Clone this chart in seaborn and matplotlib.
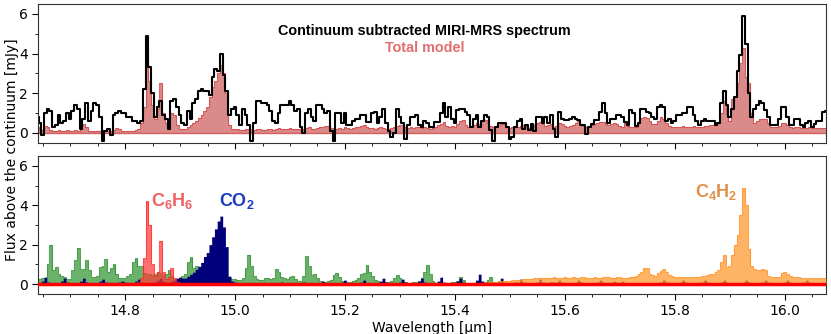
import numpy as np
import pandas as pd
import seaborn as sns
import matplotlib.pyplot as plt
from matplotlib.ticker import MultipleLocator, AutoMinorLocator

# wavelength grid of the spectrum (micron)
wave = np.round(np.arange(14.640, 16.0751, 0.005), 3)

# continuum subtracted spectrum [mJy]
observed = [
    0.8, 0.5, -0.1, 1.0, 1.2, 1.1, 0.3, 0.4, 0.9, 0.5,
    0.6, 1.0, 0.7, 1.1, 1.4, 1.2, 0.2, 0.7, 1.5, 0.6,
    1.1, 1.5, 1.4, 0.8, -0.4, 0.1, 0.2, -0.1, 0.9, 1.0,
    1.1, 1.0, 1.0, 0.8, 0.8, 0.6, 0.6, 0.5, 0.6, 2.2,
    4.9, 3.3, 2.0, 0.8, 1.3, 1.6, 0.9, 0.7, 0.2, 1.6,
    1.7, 1.3, 0.9, 0.5, 0.4, 1.1, 0.7, 1.5, 1.7, 2.1,
    2.2, 2.1, 2.1, 1.9, 2.8, 3.2, 3.1, 4.0, 2.9, 2.1,
    0.9, 1.2, 1.3, 0.9, 0.4, 1.2, 0.9, 0.4, -0.4, 0.5,
    1.6, 1.6, 1.5, 1.5, 1.4, 1.1, 0.6, 0.5, 1.0, 1.4,
    1.4, 1.4, 1.6, 1.4, 1.1, 1.2, 0.3, 0.0, 1.0, 1.2,
    0.8, 0.6, 1.4, 1.4, 1.2, 1.0, 1.1, 0.1, -0.4, 1.0,
    1.0, 0.5, 1.0, 0.4, 0.4, 0.6, 0.7, 0.7, 0.9, 0.9,
    0.55, 0.55, 1.0, 1.05, 0.5, 0.8, 1.2, 0.5, 0.1, -0.2,
    0.0, 1.2, 0.8, 0.5, -0.3, 0.4, 0.8, 0.8, 0.9, 0.4,
    0.3, 0.6, 0.5, 0.3, 0.3, 0.55, 0.55, 1.0, 1.5, 0.8,
    1.3, 0.7, 0.5, 1.15, 1.2, 1.2, 1.05, 0.9, 0.3, 0.7,
    0.9, 0.3, 0.6, 0.9, 0.8, 0.15, -0.4, 0.3, 0.5, 0.5,
    0.5, 0.3, -0.3, -0.2, 0.3, 0.6, 0.7, 0.2, 0.4, 0.15,
    0.45, 0.1, 0.8, 0.8, 0.5, 0.8, 0.5, 0.9, 0.2, -0.2,
    1.05, 0.7, 0.65, 0.65, 0.7, 0.8, 0.7, 0.65, 0.4, 0.4,
    -0.05, 0.3, 0.45, 0.65, 0.65, 1.05, 1.5, 1.0, 0.5, 0.7,
    0.7, 0.9, 0.9, 0.8, 0.55, 0.4, 1.15, 1.0, 0.35, 0.5,
    1.2, 1.2, 1.05, 1.0, 0.8, 0.7, 1.3, 1.4, 1.3, 0.6,
    0.7, 0.5, 0.6, 0.9, 0.9, 1.0, 1.0, 1.3, 1.3, 0.9,
    0.6, 0.4, 0.6, 0.7, 0.6, 0.6, 0.6, 0.4, 0.5, 1.5,
    2.1, 1.4, 0.8, 1.2, 1.8, 3.1, 3.9, 5.9, 4.5, 2.0,
    0.8, 1.2, 1.4, 1.6, 1.5, 1.15, 0.8, 0.4, 0.4, 0.4,
    0.7, 1.3, 1.3, 0.8, 0.4, 0.4, 0.7, 0.7, 0.4, 0.3,
    0.5, 0.6, 0.3, 0.45, 0.6, 0.6, 1.05, 1.1,
]

# total slab model [mJy]
total_model = [
    0.3, 0.2, 0.15, 0.35, 0.3, 0.15, 0.1, 0.1, 0.15, 0.1,
    0.1, 0.15, 0.1, 0.1, 0.15, 0.1, 0.2, 0.45, 0.3, 0.1,
    0.1, 0.1, 0.1, 0.1, 0.15, 0.1, 0.1, 0.1, 0.15, 0.25,
    0.2, 0.1, 0.1, 0.1, 0.1, 0.1, 0.15, 0.2, 0.5, 1.3,
    4.3, 2.6, 1.4, 0.7, 1.2, 2.5, 1.0, 0.5, 0.3, 1.0,
    0.9, 0.4, 0.2, 0.2, 0.2, 0.3, 0.4, 0.5, 0.6, 0.75,
    0.9, 1.1, 1.3, 1.8, 2.3, 2.6, 3.0, 3.4, 3.0, 2.0,
    0.4, 0.2, 0.2, 0.2, 0.15, 0.15, 0.2, 0.2, 0.2, 0.15,
    0.2, 0.2, 0.15, 0.15, 0.2, 0.2, 0.15, 0.2, 0.25, 0.2,
    0.2, 0.2, 0.25, 0.2, 0.2, 0.2, 0.2, 0.2, 0.25, 0.3,
    0.2, 0.2, 0.25, 0.3, 0.3, 0.35, 0.35, 0.25, 0.2, 0.2,
    0.25, 0.2, 0.3, 0.25, 0.2, 0.25, 0.3, 0.3, 0.35, 0.4,
    0.3, 0.25, 0.25, 0.2, 0.25, 0.3, 0.25, 0.2, 0.2, 0.25,
    0.3, 0.35, 0.4, 0.4, 0.3, 0.25, 0.3, 0.25, 0.3, 0.3,
    0.25, 0.3, 0.25, 0.2, 0.25, 0.3, 0.4, 0.45, 0.55, 0.35,
    0.3, 0.35, 0.3, 0.45, 0.6, 0.65, 0.4, 0.3, 0.35, 0.4,
    0.5, 0.45, 0.6, 0.65, 0.5, 0.35, 0.3, 0.35, 0.4, 0.45,
    0.45, 0.3, 0.25, 0.3, 0.35, 0.3, 0.35, 0.4, 0.35, 0.25,
    0.3, 0.4, 0.5, 0.55, 0.45, 0.35, 0.4, 0.45, 0.3, 0.35,
    0.5, 0.45, 0.35, 0.3, 0.35, 0.4, 0.5, 0.6, 0.45, 0.35,
    0.3, 0.35, 0.4, 0.45, 0.5, 0.55, 0.55, 0.45, 0.4, 0.45,
    0.5, 0.45, 0.35, 0.3, 0.5, 0.35, 0.3, 0.3, 0.3, 0.5,
    0.75, 0.8, 0.75, 0.6, 0.45, 0.45, 0.6, 0.8, 0.7, 0.5,
    0.35, 0.3, 0.3, 0.3, 0.3, 0.35, 0.3, 0.3, 0.3, 0.35,
    0.3, 0.3, 0.3, 0.35, 0.35, 0.4, 0.4, 0.4, 0.5, 1.0,
    1.6, 1.0, 0.6, 1.7, 1.8, 2.5, 3.5, 4.3, 2.8, 2.5,
    1.0, 0.5, 0.6, 0.7, 0.7, 0.7, 0.5, 0.3, 0.3, 0.3,
    0.35, 0.5, 0.5, 0.4, 0.3, 0.25, 0.3, 0.3, 0.25, 0.25,
    0.25, 0.3, 0.25, 0.25, 0.25, 0.25, 0.25, 0.25,
]

# individual molecular components [mJy]
h2o = [
    0.25, 0.25, 0.3, 0.3, 1.0, 2.0, 0.7, 0.85, 0.5, 0.4,
    0.35, 0.25, 0.25, 0.7, 1.2, 1.85, 0.75, 0.75, 1.2, 0.7,
    0.35, 0.35, 0.4, 0.85, 0.9, 1.25, 0.6, 0.8, 1.0, 0.5,
    0.3, 0.3, 0.3, 0.4, 0.5, 1.1, 1.3, 0.9, 0.9, 0.55,
    0.5, 0.5, 0.45, 0.5, 0.6, 0.55, 0.45, 0.5, 0.7, 0.4,
    0.25, 0.25, 0.3, 0.4, 0.5, 1.1, 1.35, 0.8, 0.9, 0.8,
    0.6, 0.4, 0.5, 0.4, 0.5, 0.6, 0.5, 0.4, 0.3, 0.3,
    0.3, 0.25, 0.25, 0.2, 0.2, 0.3, 0.8, 1.5, 0.9, 0.4,
    0.25, 0.2, 0.2, 0.3, 0.3, 0.25, 0.3, 0.75, 0.6, 0.35,
    0.3, 0.25, 0.35, 0.4, 0.25, 0.15, 0.15, 0.4, 1.4, 0.9,
    0.45, 0.5, 0.3, 0.15, 0.1, 0.1, 0.15, 0.2, 0.45, 0.55,
    0.35, 0.15, 0.1, 0.1, 0.1, 0.15, 0.2, 0.3, 0.5, 0.55,
    0.95, 0.6, 0.4, 0.2, 0.15, 0.1, 0.1, 0.1, 0.1, 0.15,
    0.3, 0.45, 0.3, 0.1, 0.1, 0.05, 0.05, 0.1, 0.1, 0.15,
    0.3, 0.6, 0.95, 0.5, 0.15, 0.05, 0.05, 0.05, 0.05, 0.05,
    0.05, 0.1, 0.1, 0.15, 0.35, 0.2, 0.05, 0.05, 0.05, 0.05,
    0.05, 0.05, 0.05, 0.1, 0.2, 0.35, 0.1, 0.05, 0.05, 0.05,
    0.05, 0.05, 0.05, 0.05, 0.1, 0.05, 0.05, 0.05, 0.05, 0.05,
    0.05, 0.05, 0.05, 0.05, 0.05, 0.05, 0.05, 0.12, 0.05, 0.05,
    0.05, 0.05, 0.05, 0.05, 0.05, 0.05, 0.05, 0.05, 0.05, 0.05,
    0.05, 0.05, 0.05, 0.05, 0.05, 0.05, 0.05, 0.05, 0.05, 0.05,
    0.1, 0.05, 0.05, 0.05, 0.05, 0.05, 0.05, 0.05, 0.05, 0.05,
    0.03, 0.03, 0.03, 0.03, 0.03, 0.03, 0.03, 0.03, 0.03, 0.03,
    0.03, 0.03, 0.03, 0.03, 0.03, 0.03, 0.03, 0.03, 0.03, 0.03,
    0.03, 0.03, 0.03, 0.03, 0.03, 0.03, 0.03, 0.03, 0.03, 0.03,
    0.03, 0.03, 0.03, 0.03, 0.03, 0.03, 0.03, 0.03, 0.03, 0.03,
    0.03, 0.03, 0.03, 0.03, 0.03, 0.03, 0.03, 0.03, 0.03, 0.03,
    0.03, 0.03, 0.03, 0.03, 0.03, 0.03, 0.03, 0.03, 0.03, 0.03,
    0.03, 0.03, 0.03, 0.03, 0.03, 0.03, 0.03, 0.03,
]

co2 = [
    0.05, 0.05, 0.15, 0.35, 0.1, 0.05, 0.05, 0.05, 0.05, 0.15,
    0.3, 0.1, 0.05, 0.05, 0.05, 0.05, 0.15, 0.3, 0.1, 0.05,
    0.05, 0.05, 0.05, 0.15, 0.25, 0.1, 0.05, 0.05, 0.05, 0.05,
    0.1, 0.15, 0.1, 0.05, 0.05, 0.05, 0.15, 0.25, 0.1, 0.05,
    0.05, 0.05, 0.05, 0.1, 0.2, 0.3, 0.15, 0.1, 0.1, 0.15,
    0.2, 0.3, 0.35, 0.3, 0.3, 0.4, 0.5, 0.6, 0.75, 0.9,
    1.1, 1.4, 1.6, 2.0, 2.4, 2.8, 3.2, 3.45, 2.9, 1.9,
    0.4, 0.15, 0.1, 0.05, 0.05, 0.05, 0.05, 0.05, 0.05, 0.05,
    0.05, 0.05, 0.05, 0.05, 0.05, 0.05, 0.05, 0.05, 0.05, 0.1,
    0.05, 0.05, 0.05, 0.05, 0.05, 0.05, 0.05, 0.1, 0.05, 0.05,
    0.05, 0.05, 0.05, 0.05, 0.15, 0.05, 0.05, 0.05, 0.05, 0.05,
    0.05, 0.1, 0.2, 0.05, 0.05, 0.05, 0.05, 0.05, 0.1, 0.2,
    0.05, 0.05, 0.05, 0.05, 0.05, 0.15, 0.3, 0.1, 0.05, 0.05,
    0.05, 0.05, 0.1, 0.25, 0.1, 0.05, 0.05, 0.05, 0.05, 0.15,
    0.3, 0.1, 0.05, 0.05, 0.05, 0.05, 0.15, 0.35, 0.1, 0.05,
    0.05, 0.05, 0.05, 0.15, 0.3, 0.1, 0.05, 0.05, 0.05, 0.05,
    0.2, 0.5, 0.15, 0.05, 0.05, 0.05, 0.05, 0.05, 0.15, 0.3,
    0.1, 0.05, 0.05, 0.05, 0.05, 0.1, 0.25, 0.1, 0.05, 0.05,
    0.05, 0.05, 0.1, 0.25, 0.1, 0.05, 0.05, 0.05, 0.05, 0.1,
    0.2, 0.1, 0.05, 0.05, 0.05, 0.05, 0.1, 0.2, 0.1, 0.05,
    0.05, 0.05, 0.05, 0.05, 0.1, 0.2, 0.1, 0.05, 0.05, 0.05,
    0.15, 0.05, 0.05, 0.15, 0.05, 0.05, 0.05, 0.05, 0.05, 0.05,
    0.05, 0.05, 0.05, 0.05, 0.05, 0.05, 0.05, 0.1, 0.2, 0.1,
    0.05, 0.05, 0.05, 0.05, 0.1, 0.2, 0.1, 0.05, 0.05, 0.05,
    0.05, 0.05, 0.1, 0.2, 0.1, 0.05, 0.05, 0.05, 0.05, 0.1,
    0.2, 0.1, 0.05, 0.05, 0.05, 0.05, 0.05, 0.1, 0.2, 0.1,
    0.05, 0.05, 0.05, 0.05, 0.1, 0.2, 0.1, 0.05, 0.05, 0.05,
    0.05, 0.05, 0.1, 0.2, 0.1, 0.05, 0.05, 0.05, 0.05, 0.1,
    0.2, 0.1, 0.05, 0.05, 0.05, 0.05, 0.05, 0.05,
]

c6h6 = [0.0] * 36 + [
    0.05, 0.1, 0.3, 1.3, 4.2, 3.0, 1.0, 0.4, 0.6, 2.2,
    0.6, 0.25, 0.35, 0.8, 0.3, 0.1, 0.05,
] + [0.0] * 235

c4h2 = [0.0] * 155 + [
    0.02, 0.03, 0.03, 0.04, 0.05, 0.05, 0.06, 0.07, 0.08, 0.08,
    0.1, 0.1, 0.12, 0.13, 0.15, 0.15, 0.17, 0.18, 0.2, 0.2,
    0.22, 0.23, 0.25, 0.25, 0.27, 0.28, 0.3, 0.3, 0.3, 0.32,
    0.32, 0.3, 0.32, 0.35, 0.33, 0.3, 0.32, 0.35, 0.33, 0.32,
    0.35, 0.33, 0.32, 0.35, 0.35, 0.33, 0.3, 0.32, 0.35, 0.33,
    0.32, 0.35, 0.38, 0.35, 0.32, 0.33, 0.35, 0.35, 0.32, 0.3,
    0.32, 0.35, 0.38, 0.4, 0.5, 0.6, 0.8, 0.8, 0.5, 0.45,
    0.4, 0.55, 0.65, 0.75, 0.6, 0.45, 0.4, 0.35, 0.35, 0.35,
    0.35, 0.35, 0.35, 0.35, 0.35, 0.35, 0.35, 0.4, 0.4, 0.45,
    0.5, 0.5, 0.6, 0.7, 1.1, 1.45, 0.85, 0.9, 1.5, 2.0,
    2.5, 3.5, 4.9, 4.0, 1.8, 0.9, 0.75, 0.7, 0.7, 0.75,
    0.7, 0.4, 0.35, 0.35, 0.35, 0.35, 0.55, 0.6, 0.5, 0.4,
    0.35, 0.35, 0.35, 0.3, 0.3, 0.3, 0.3, 0.3, 0.3, 0.3, 0.3, 0.3, 0.3,
]

df = pd.DataFrame({'wave': wave, 'observed': observed, 'model': total_model})

sns.set_style('ticks')
plt.rcParams['font.family'] = ['DejaVu Sans']
plt.rcParams['text.color'] = 'black'
plt.rcParams['axes.labelcolor'] = 'black'
plt.rcParams['xtick.color'] = 'black'
plt.rcParams['ytick.color'] = 'black'
plt.rcParams['mathtext.fontset'] = 'custom'
plt.rcParams['mathtext.rm'] = 'Liberation Sans:bold'
plt.rcParams['mathtext.it'] = 'Liberation Sans:bold'

fig = plt.figure(figsize=(8.31, 3.34), dpi=100)
ax1 = fig.add_axes([0.046, 0.573, 0.948, 0.415])
ax2 = fig.add_axes([0.046, 0.120, 0.948, 0.413], sharex=ax1)

# Top panel: data and total model
ax1.fill_between(df['wave'], 0, df['model'], step='mid',
                 color='#c94c4c', alpha=0.65, lw=0)
ax1.step(df['wave'], df['model'], where='mid', color='#d04040', lw=0.8, alpha=0.8)
ax1.axhline(0, color='#d04040', lw=1.0, alpha=0.8)
sns.lineplot(data=df, x='wave', y='observed', ax=ax1, color='black',
             lw=1.5, drawstyle='steps-mid', estimator=None)
ax1.set_xlabel('')
ax1.set_ylabel('')
ax1.text(15.345, 5.16, 'Continuum subtracted MIRI-MRS spectrum', ha='center',
         va='center', fontsize=10.4, fontweight='bold', color='black',
         family='Liberation Sans')
ax1.text(15.345, 4.26, 'Total model', ha='center', va='center', fontsize=10.4,
         fontweight='bold', color='#e07070', family='Liberation Sans')
plt.setp(ax1.get_xticklabels(), visible=False)

# Bottom panel: individual molecules (fill colour, edge colour, alpha)
components = [
    (h2o, '#3a9a3a', '#2e8b2e', 0.75),
    (co2, '#00007a', None, 1.0),
    (c6h6, '#ff3a3a', '#ff2020', 0.72),
    (c4h2, '#ff9a30', '#ff8c1a', 0.75),
]
for i, (vals, fc, ec, a) in enumerate(components):
    ax2.fill_between(wave, 0, vals, step='mid', color=fc, alpha=a, lw=0,
                     zorder=2 * i + 1)
    if ec is not None:
        ax2.step(wave, vals, where='mid', color=ec, lw=0.8, alpha=a,
                 zorder=2 * i + 2)
ax2.axhline(0, color='red', lw=2.5, zorder=10)

ax2.text(14.885, 4.2, 'C$_6$H$_6$', color='#f06060', fontsize=13,
         fontweight='bold', ha='center', va='center', family='Liberation Sans')
ax2.text(15.004, 4.2, 'CO$_2$', color='#1a3cc0', fontsize=13,
         fontweight='bold', ha='center', va='center', family='Liberation Sans')
ax2.text(15.876, 4.67, 'C$_4$H$_2$', color='#e0904a', fontsize=13,
         fontweight='bold', ha='center', va='center', family='Liberation Sans')
ax2.set_xlabel('Wavelength [μm]', fontsize=10, labelpad=2)

for ax in (ax1, ax2):
    ax.set_xlim(14.642, 16.075)
    ax.set_ylim(-0.5, 6.5)
    ax.xaxis.set_major_locator(MultipleLocator(0.2))
    ax.xaxis.set_minor_locator(MultipleLocator(0.05))
    ax.yaxis.set_major_locator(MultipleLocator(2))
    ax.yaxis.set_minor_locator(AutoMinorLocator(2))
    ax.tick_params(which='major', length=4, labelsize=10)
    ax.tick_params(which='minor', length=2)
    for s in ax.spines.values():
        s.set_color('#333333')

fig.text(0.014, 0.551, 'Flux above the continuum [mJy]', rotation=90,
         ha='center', va='center', fontsize=10)

fig.savefig('out.png', dpi=100)
